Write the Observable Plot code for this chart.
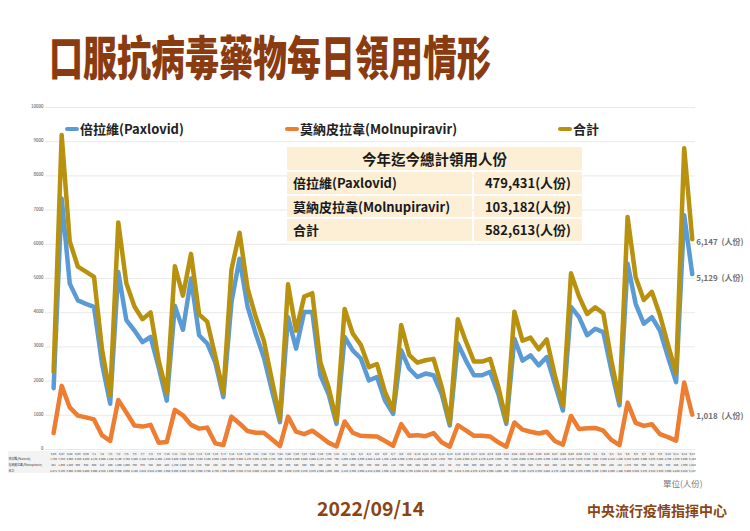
<!DOCTYPE html>
<html>
<head>
<meta charset="utf-8">
<script src="https://cdn.jsdelivr.net/npm/d3@7"></script>
<script src="https://cdn.jsdelivr.net/npm/@observablehq/plot@0.6"></script>
<style>
  html, body { margin: 0; padding: 0; background: #fff; }
  #wrap { position: relative; width: 750px; height: 531px; overflow: hidden; font-family: "Noto Sans CJK TC", "Noto Sans", sans-serif; background:#fff; }
  #chart { position: absolute; left: 0; top: 0; }
  .abs { position: absolute; white-space: nowrap; }
  #title { left: 49px; top: 33px; font-size: 34px; font-weight: 900; color: #8A3B10; letter-spacing: 0px; transform: scaleY(1.36); transform-origin: left top; line-height: 1; }
  .leg { font-size: 13px; font-weight: 700; color: #222; line-height: 16px; }
  .sw { display: inline-block; width: 14px; height: 4px; border-radius: 2px; vertical-align: middle; margin-right: 1px; position: relative; top: -1px; }
  #sum { position: absolute; left: 287px; top: 147px; display: grid; grid-template-columns: 185px 108px; grid-template-rows: 23px 21.5px 21.5px 21.5px; gap: 2px; }
  #sum div { background: #FCEFD5; font-weight: 700; color: #1a1a1a; display: flex; align-items: center; }
  #sum .h { grid-column: 1 / 3; justify-content: center; font-size: 14.5px; }
  #sum .l { font-size: 13px; padding-left: 6px; }
  #sum .r { font-size: 13px; justify-content: center; }
  #tbl { position: absolute; left: 8px; top: 451px; width: 686px; height: 22px; background: #f3f3f3; }
  #date { left: 317px; top: 496px; font-size: 19.5px; font-weight: 700; color: #8B4513; line-height: 24px; }
  #org { left: 587px; top: 501px; font-size: 14px; font-weight: 700; color: #8B4513; line-height: 18px; }
  #unit { left: 663px; top: 477px; font-size: 8.5px; color: #777; line-height: 12px; }
</style>
</head>
<body>
<div id="wrap">
  <div id="tbl"></div>
  <div id="chart"></div>
  <div id="title" class="abs">口服抗病毒藥物每日領用情形</div>
  <div class="abs leg" style="left:65px; top:121px;"><span class="sw" style="background:#5B9BD5"></span>倍拉維(Paxlovid)</div>
  <div class="abs leg" style="left:285px; top:121px;"><span class="sw" style="background:#ED7D31"></span>莫納皮拉韋(Molnupiravir)</div>
  <div class="abs leg" style="left:558px; top:121px;"><span class="sw" style="background:#B8920F"></span>合計</div>
  <div id="sum"></div>
  <div id="unit" class="abs">單位(人份)</div>
  <div id="date" class="abs">2022/09/14</div>
  <div id="org" class="abs">中央流行疫情指揮中心</div>
</div>
<script>
const dates = [
  "6/26","6/27","6/28","6/29","6/30",
  "7/1","7/2","7/3","7/4","7/5","7/6","7/7","7/8","7/9","7/10","7/11","7/12","7/13","7/14","7/15","7/16",
  "7/17","7/18","7/19","7/20","7/21","7/22","7/23","7/24","7/25","7/26","7/27","7/28","7/29","7/30","7/31",
  "8/1","8/2","8/3","8/4","8/5","8/6","8/7","8/8","8/9","8/10","8/11","8/12","8/13","8/14","8/15","8/16",
  "8/17","8/18","8/19","8/20","8/21","8/22","8/23","8/24","8/25","8/26","8/27","8/28","8/29","8/30","8/31",
  "9/1","9/2","9/3","9/4","9/5","9/6","9/7","9/8","9/9","9/10","9/11","9/12","9/13"
];
const paxlovid = [
  1790,7336,4850,4360,4260,4170,2500,1340,5190,3780,3480,3140,3290,2400,1430,4200,3500,5000,3340,3100,
  2550,1530,4300,5580,4170,3390,2700,1730,800,3870,2950,4020,4020,2170,1630,750,3290,2900,2660,2020,
  2120,1430,1040,2900,2360,2120,2220,2170,1630,700,3100,2600,2170,2170,2270,1630,750,3240,2600,2750,
  2460,2700,1920,1140,4170,3870,3340,3530,3430,2310,1290,5430,4260,3680,3870,3480,2700,1970,6850,5129
];
const molnupiravir = [
  481,1860,1230,990,940,880,410,250,1450,1080,700,670,720,200,220,1160,1000,720,610,640,
  180,130,960,760,540,490,490,300,100,960,520,450,550,380,200,90,820,490,400,390,
  380,250,110,740,400,420,390,480,210,80,710,560,400,400,380,210,80,790,580,520,
  470,520,250,140,980,600,620,630,550,280,130,1370,780,690,740,450,360,260,1960,1018
];
const total = [
  2271,9196,6080,5350,5200,5050,2910,1590,6640,4860,4180,3810,4010,2600,1650,5360,4500,5720,3950,3740,
  2730,1660,5260,6340,4710,3880,3190,2030,900,4830,3470,4470,4570,2550,1830,840,4110,3390,3060,2410,
  2500,1680,1150,3640,2760,2540,2610,2650,1840,780,3810,3160,2570,2570,2650,1840,830,4030,3180,3270,
  2930,3220,2170,1280,5150,4470,3960,4160,3980,2590,1420,6800,5040,4370,4610,3930,3060,2230,8810,6147
];
const yTicks = [0,1000,2000,3000,4000,5000,6000,7000,8000,9000,10000];
const seriesNames = ["倍拉維(Paxlovid)", "莫納皮拉韋(Molnupiravir)", "合計"];
const summaryTitle = "今年迄今總計領用人份";
const summaryValues = ["479,431(人份)", "103,182(人份)", "582,613(人份)"];
const tableLabels = ["倍拉維(Paxlovid)", "莫納皮拉韋(Molnupiravir)", "合計"];

const rows = dates.map((d, i) => ({i, date: d, pax: paxlovid[i], mol: molnupiravir[i], tot: total[i]}));
const last = rows[rows.length - 1];
const rowDy = [10.5, 16.5, 22];

const plot = Plot.plot({
  width: 750,
  height: 531,
  marginLeft: 45,
  marginRight: 55,
  marginTop: 107,
  marginBottom: 82,
  style: {background: "transparent", fontFamily: "'Noto Sans CJK TC', 'Noto Sans', sans-serif"},
  x: {domain: [-1, 79.4], axis: null},
  y: {domain: [0, 10000], axis: null},
  marks: [
    Plot.gridY(yTicks, {stroke: "#e3e3e3", strokeOpacity: 1, strokeWidth: 0.8}),
    Plot.axisY(yTicks, {tickSize: 0, tickPadding: 2, fontSize: 4.5, fill: "#444", dy: -1, tickFormat: d => String(d)}),
    Plot.line(rows, {x: "i", y: "pax", stroke: "#5B9BD5", strokeWidth: 4.5, strokeLinejoin: "round", strokeLinecap: "round"}),
    Plot.line(rows, {x: "i", y: "mol", stroke: "#ED7D31", strokeWidth: 4.5, strokeLinejoin: "round", strokeLinecap: "round"}),
    Plot.line(rows, {x: "i", y: "tot", stroke: "#B8920F", strokeWidth: 4.5, strokeLinejoin: "round", strokeLinecap: "round"}),
    Plot.text([last], {x: "i", y: "tot", text: d => d3.format(",")(d.tot) + "  (人份)", dx: 4, dy: 3, textAnchor: "start", fontSize: 8, fontWeight: "bold", fill: "#707070"}),
    Plot.text([last], {x: "i", y: "pax", text: d => d3.format(",")(d.pax) + "  (人份)", dx: 4, dy: 4, textAnchor: "start", fontSize: 8, fontWeight: "bold", fill: "#707070"}),
    Plot.text([last], {x: "i", y: "mol", text: d => d3.format(",")(d.mol) + "  (人份)", dx: 4, dy: 2, textAnchor: "start", fontSize: 8, fontWeight: "bold", fill: "#707070"}),
    // data table under the chart
    Plot.text(rows, {x: "i", frameAnchor: "bottom", text: "date", dy: 5, fontSize: 2.7, fill: "#333"}),
    Plot.text(rows, {x: "i", frameAnchor: "bottom", text: "pax", dy: rowDy[0], fontSize: 2.7, fill: "#333"}),
    Plot.text(rows, {x: "i", frameAnchor: "bottom", text: "mol", dy: rowDy[1], fontSize: 2.7, fill: "#333"}),
    Plot.text(rows, {x: "i", frameAnchor: "bottom", text: "tot", dy: rowDy[2], fontSize: 2.7, fill: "#333"}),
    ...tableLabels.map((lab, k) => Plot.text([lab], {frameAnchor: "bottom-left", text: d => d, dx: -37, dy: rowDy[k], textAnchor: "start", fontSize: 2.9, fill: "#333"}))
  ]
});
document.getElementById("chart").appendChild(plot);

const sum = document.getElementById("sum");
const h = document.createElement("div"); h.className = "h"; h.textContent = summaryTitle; sum.appendChild(h);
seriesNames.forEach((name, k) => {
  const l = document.createElement("div"); l.className = "l"; l.textContent = name; sum.appendChild(l);
  const r = document.createElement("div"); r.className = "r"; r.textContent = summaryValues[k]; sum.appendChild(r);
});
</script>
</body>
</html>
